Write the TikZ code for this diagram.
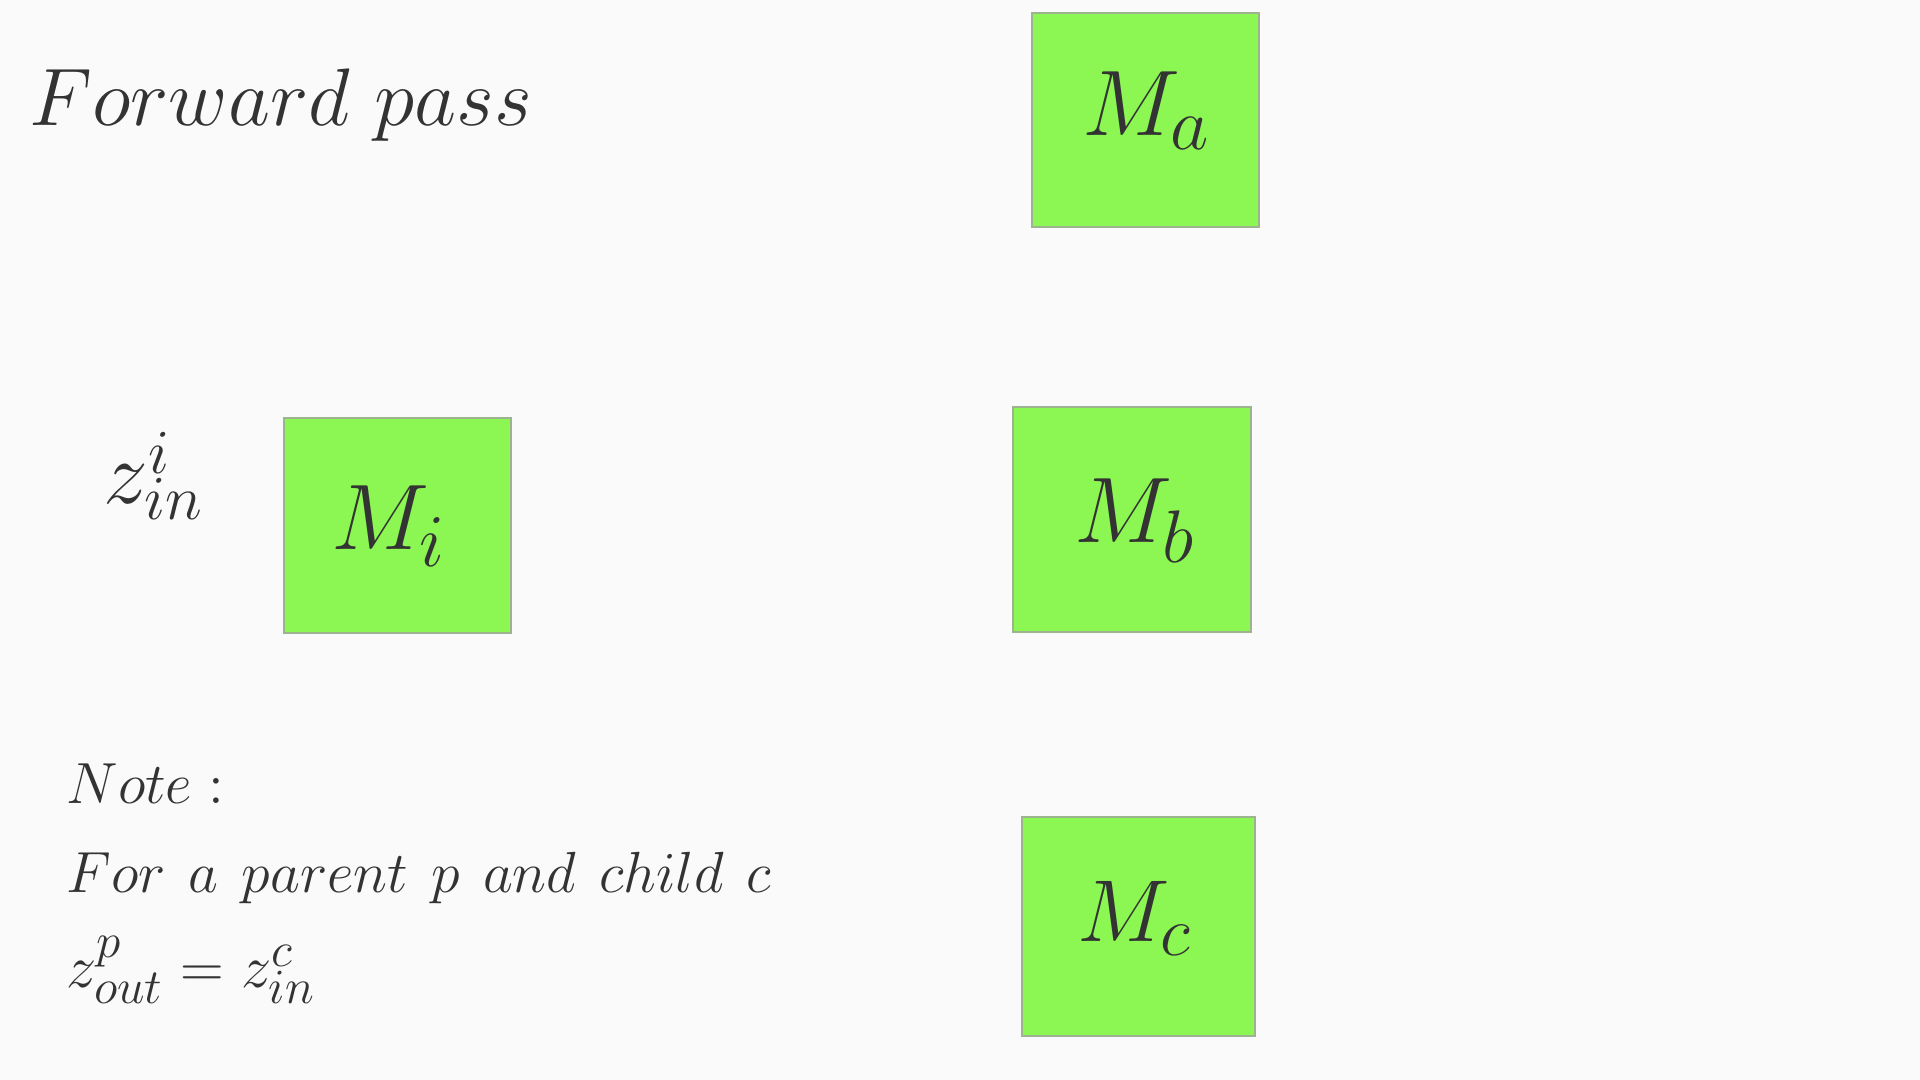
\documentclass[tikz,border=0pt]{standalone}
\usepackage{fix-cm}
\DeclareMathSizes{26.5}{26.5}{21.2}{15}
\DeclareMathSizes{25}{25}{20}{14}
\DeclareMathSizes{16.5}{16.5}{13.2}{10}
\DeclareMathSizes{17.2}{17.2}{14}{10}
\definecolor{bg}{HTML}{FAFAFA}
\definecolor{ink}{HTML}{333333}
\definecolor{boxgreen}{HTML}{8CF752}
\definecolor{boxedge}{HTML}{9DB38F}
\begin{document}
\begin{tikzpicture}[x=0.01cm,y=-0.01cm,
  mbox/.style={draw=boxedge, line width=0.5pt, fill=boxgreen, inner sep=0pt},
  lbl/.style={text=ink, inner sep=0pt, anchor=base west},
  big/.style={font=\fontsize{23.2}{28}\selectfont},
  mlab/.style={font=\fontsize{26.5}{31}\selectfont},
  mlabs/.style={font=\fontsize{25}{30}\selectfont},
  mid/.style={font=\fontsize{25.5}{30}\selectfont},
  small/.style={font=\fontsize{16.5}{20}\selectfont},
  eqf/.style={font=\fontsize{17.2}{21}\selectfont}]
\fill[bg] (0,0) rectangle (1920,1080);
\useasboundingbox (0,0) rectangle (1920,1080);
% boxes
\node[mbox, minimum width=2.27cm, minimum height=2.14cm] (Ma) at (1145.5,120) {};
\node[mbox, minimum width=2.27cm, minimum height=2.15cm] (Mi) at (397.5,525.5) {};
\node[mbox, minimum width=2.38cm, minimum height=2.25cm] (Mb) at (1132,519.5) {};
\node[mbox, minimum width=2.33cm, minimum height=2.19cm] (Mc) at (1138.5,926.5) {};
% box labels
\node[lbl, mlab] (Ma-t) at (1082,136) {$M_a$};
\node[lbl, mlab] (Mi-t) at (331,550) {$M_i$};
\node[lbl, mlab] (Mb-t) at (1074,543) {$M_b$};
\node[lbl, mlabs] (Mc-t) at (1077,942) {$M_c$};
% labels
\node[lbl, big] (title) at (29,126) {$Forward\ pass$};
\node[lbl, mid] (zin) at (103,504) {$z_{in}^{\raisebox{-0.1em}{$\scriptstyle i$}}$};
\node[lbl, small] (note) at (66,804) {$Note:$};
\node[lbl, small] (rule) at (66,893) {$For\hspace{0.4em}a\hspace{0.4em}parent\hspace{0.4em}p\hspace{0.4em}and\hspace{0.4em}child\hspace{0.4em}c$};
\node[lbl, eqf] (eq) at (66,988) {$z_{out}^{p}=z_{in}^{c}$};
\end{tikzpicture}
\end{document}
